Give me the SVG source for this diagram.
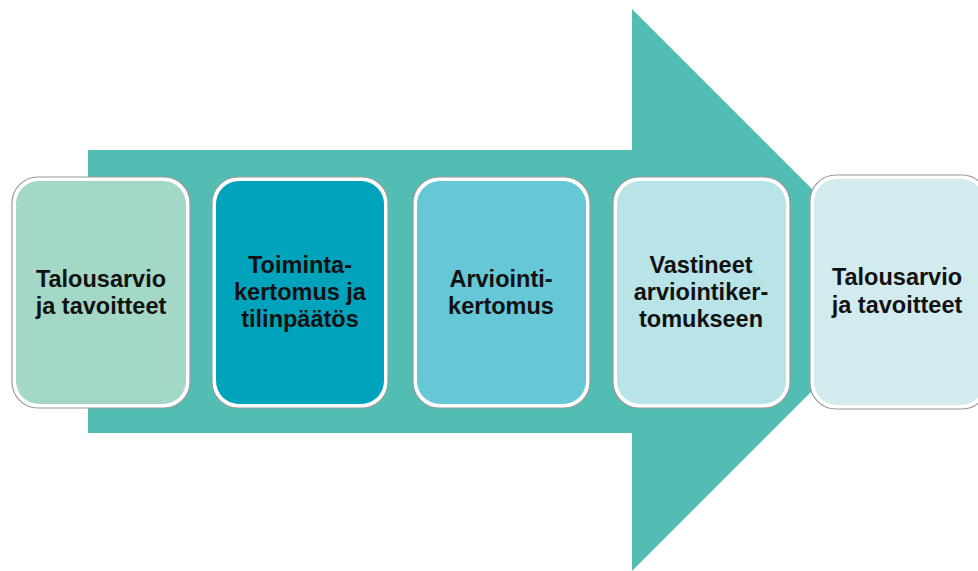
<svg xmlns="http://www.w3.org/2000/svg" width="978" height="571" viewBox="0 0 978 571">
<style>
.frame{fill:#fff;stroke:#9a9a9a;stroke-width:1.2}
.t{font-family:"Liberation Sans",Arial,sans-serif;font-weight:bold;font-size:23.5px;fill:#111;text-anchor:middle}
</style>
<rect width="978" height="571" fill="#fff"/>
<g id="connectors">
<polygon points="88,150 632,150 632,9 913,290 632,571 632,433 88,433" fill="#52BDB3"/>
</g>
<g id="node1">
<rect class="frame" x="12" y="177" width="178" height="231" rx="26"/>
<rect x="16" y="181" width="170" height="223" rx="23" fill="#A3D8C6"/>
<text class="t" x="101" y="287">Talousarvio</text>
<text class="t" x="101" y="314">ja tavoitteet</text>
</g>
<g id="node2">
<rect class="frame" x="212" y="177" width="176" height="231" rx="26"/>
<rect x="216" y="181" width="168" height="223" rx="23" fill="#00A3BC"/>
<text class="t" x="300" y="273">Toiminta-</text>
<text class="t" x="300" y="300">kertomus ja</text>
<text class="t" x="300" y="327">tilinpäätös</text>
</g>
<g id="node3">
<rect class="frame" x="413" y="177" width="177" height="231" rx="26"/>
<rect x="417" y="181" width="169" height="223" rx="23" fill="#66C7D6"/>
<text class="t" x="501" y="287">Arviointi-</text>
<text class="t" x="501" y="314">kertomus</text>
</g>
<g id="node4">
<rect class="frame" x="613" y="177" width="177" height="231" rx="26"/>
<rect x="617" y="181" width="169" height="223" rx="23" fill="#B8E3E7"/>
<text class="t" x="701" y="273">Vastineet</text>
<text class="t" x="701" y="300">arviointiker-</text>
<text class="t" x="701" y="327">tomukseen</text>
</g>
<g id="node5">
<rect class="frame" x="810" y="175" width="178" height="234" rx="26"/>
<rect x="814" y="179" width="170" height="226" rx="23" fill="#D1EBEE"/>
<text class="t" x="897" y="285">Talousarvio</text>
<text class="t" x="897" y="313">ja tavoitteet</text>
</g>
</svg>
